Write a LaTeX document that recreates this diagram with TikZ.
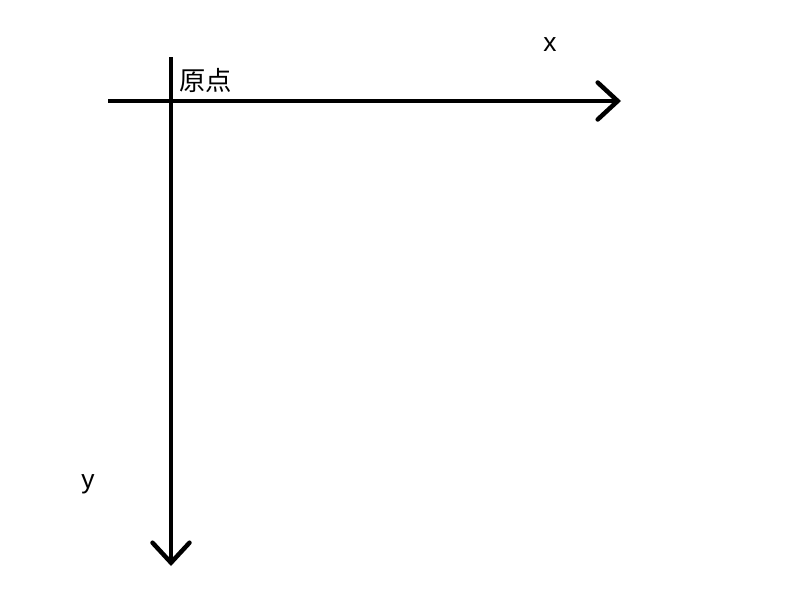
\documentclass[tikz,border=0pt]{standalone}
\usepackage{fontspec}
\newfontfamily\cjk{Noto Sans CJK SC}
\setmainfont{Liberation Sans}
\usetikzlibrary{arrows.meta}
\tikzset{
  axis/.style={line width=0.09cm, -{Straight Barb[length=0.4cm, width=0.74cm, line cap=round]}},
  lbl/.style={font=\fontsize{15}{18}\selectfont, inner sep=0pt}
}
\begin{document}
\begin{tikzpicture}[x=0.02cm, y=-0.02cm]
  \useasboundingbox (0,0) rectangle (807,605);
  \coordinate (xs) at (108,101);
  \coordinate (xe) at (621,101);
  \coordinate (ys) at (171,57);
  \coordinate (ye) at (171,566);
  \draw[axis] (xs) -- (xe);
  \draw[axis] (ys) -- (ye);
  \node[lbl] (xl) at (550,45) {x};
  \node[lbl] (yl) at (88,484) {y};
  \node[lbl, anchor=west] (o) at (179,80) {\cjk 原点};
\end{tikzpicture}
\end{document}
